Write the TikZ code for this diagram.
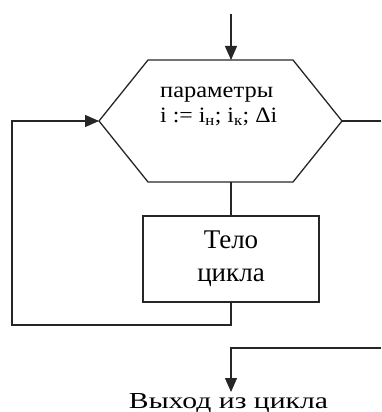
\documentclass[tikz,border=0pt]{standalone}
\usepackage{fontspec}
\usepackage{graphicx}
\setmainfont{Liberation Serif}
\usetikzlibrary{arrows.meta}
\begin{document}
\begin{tikzpicture}[x=1pt,y=-1pt,
  line/.style={line width=1.3pt,draw=black!85},
  flow/.style={line,-{Triangle[length=14pt,width=12pt]}},
  label/.style={anchor=base west,inner sep=0pt,font=\fontsize{22}{25}\selectfont},
  block/.style={line,rectangle,minimum width=176pt,minimum height=86pt,
    align=center,font=\fontsize{27}{33}\selectfont,inner sep=0pt}]
\useasboundingbox (0,0) rectangle (381,412);
% loop header (hexagon)
\coordinate (hexTop) at (231,60);
\coordinate (hexBot) at (231,182);
\coordinate (hexL) at (99,121);
\coordinate (hexR) at (342,121);
\draw[line] (148,60) -- (293,60) -- (hexR) -- (293,182) -- (148,182) -- (hexL) -- cycle;
\node[label] (paramsA) at (160,97) {\resizebox{113pt}{10.5pt}{параметры}};
\node[label] (paramsB) at (160,122)
  {\resizebox{117pt}{14.5pt}{i := i\textsubscript{н}; i\textsubscript{к}; Δi}};
% entry
\coordinate (entry) at (231,14);
\draw[flow] (entry) -- (hexTop);
% loop body
\node[block] (body) at (231,259) {Тело\\цикла};
\draw[line] (hexBot) -- (body.north);
% return path
\coordinate (retA) at (231,325);
\coordinate (retB) at (12,325);
\coordinate (retC) at (12,121);
\draw[flow] (body.south) -- (retA) -- (retB) -- (retC) -- (hexL);
% exit path
\coordinate (outR) at (381,121);
\draw[line] (hexR) -- (outR);
\coordinate (exitR) at (381,348);
\coordinate (exitC) at (231,348);
\node[label,anchor=base] (exit) at (228.5,408) {\resizebox{199pt}{15pt}{Выход из цикла}};
\coordinate (exitTip) at (231,392);
\draw[flow] (exitR) -- (exitC) -- (exitTip);
\end{tikzpicture}
\end{document}
